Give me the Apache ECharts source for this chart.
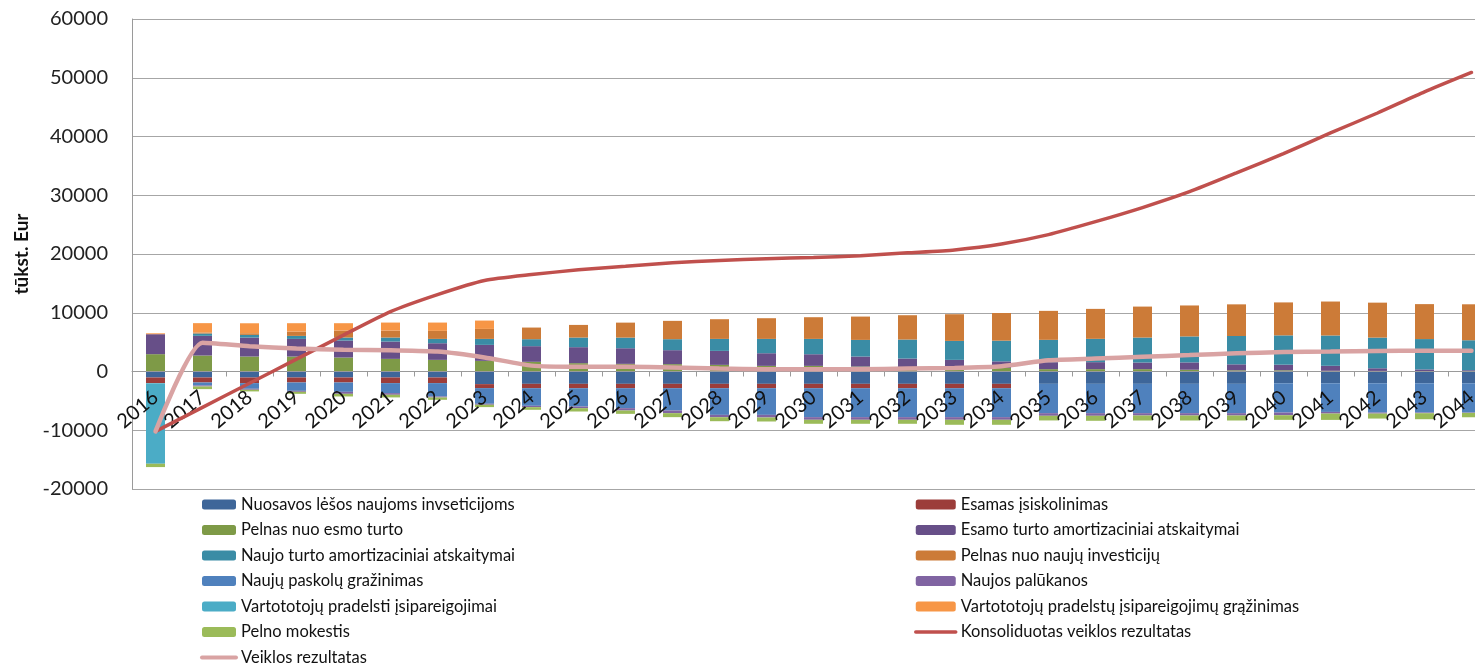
<!DOCTYPE html>
<html>
<head>
<meta charset="utf-8">
<script src="https://cdn.jsdelivr.net/npm/echarts@6/dist/echarts.min.js"></script>
<style>
  html, body { margin: 0; padding: 0; background: #fff; }
  #chart { width: 1475px; height: 668px; }
</style>
</head>
<body>
<div id="chart"></div>
<script>
var years = ['2016','2017','2018','2019','2020','2021','2022','2023','2024','2025',
  '2026','2027','2028','2029','2030','2031','2032','2033','2034','2035',
  '2036','2037','2038','2039','2040','2041','2042','2043','2044'];

var nuosavos = [-1020,-1020,-1020,-1020,-1020,-1020,-1020,-2150,-2100,-2100,
  -2100,-2100,-2100,-2100,-2100,-2100,-2100,-2100,-2100,-2100,
  -2100,-2100,-2100,-2100,-2000,-2000,-2000,-2000,-2000];
var esamasIsiskolinimas = [-960,-850,-960,-850,-850,-960,-960,-680,-740,-740,
  -740,-740,-740,-740,-740,-740,-740,-740,-740,0,
  0,0,0,0,0,0,0,0,0];
var pelnasEsamo = [2950,2720,2550,2550,2380,2150,1980,1810,1650,1420,
  1300,1250,1130,960,960,850,740,680,600,400,
  400,400,300,200,200,120,100,80,50];
var esamoAmort = [3400,3350,3230,3000,2890,2950,2830,2720,2660,2720,
  2660,2380,2380,2150,1980,1700,1470,1300,1130,1190,
  1190,1130,1250,1020,960,850,450,280,170];
var naujoAmort = [0,400,450,510,510,680,740,1020,1190,1640,
  1810,1870,2040,2440,2610,2830,3230,3230,3520,3800,
  3970,4250,4420,4820,4990,5160,5220,5160,5100];
var pelnasNauju = [0,170,280,740,1190,1190,1360,1700,1980,2150,
  2550,3120,3350,3520,3690,3970,4140,4540,4710,4930,
  5100,5270,5270,5390,5610,5780,5950,5950,6120];
var paskoluGrazinimas = [0,-510,-960,-1420,-1590,-1700,-2270,-2660,-3000,-3120,
  -3400,-3800,-4540,-4540,-4930,-4930,-4930,-4930,-4930,-4990,
  -4990,-4990,-4990,-4990,-4990,-4880,-4990,-4990,-4990];
var naujosPalukanos = [0,-170,-170,-170,-340,-280,-170,-170,-230,-280,
  -400,-450,-400,-450,-450,-450,-450,-450,-450,-450,
  -450,-400,-400,-400,-450,-280,-170,-110,-60];
var pradelsti = [-13720,0,0,0,0,0,0,0,0,0,
  0,0,0,0,0,0,0,0,0,0,
  0,0,0,0,0,0,0,0,0];
var pradelstuGrazinimas = [150,1590,1700,1420,1250,1360,1420,1420,0,0,
  0,0,0,0,0,0,0,0,0,0,
  0,0,0,0,0,0,0,0,0];
var pelnoMokestis = [-570,-450,-280,-340,-450,-450,-400,-400,-450,-570,
  -570,-680,-680,-680,-680,-680,-680,-850,-850,-790,
  -850,-850,-850,-850,-790,-1080,-850,-1020,-740];
var konsoliduotas = [-10200,-6100,-2000,2100,6200,10200,13100,15500,16500,17300,
  17900,18500,18900,19200,19400,19700,20200,20700,21700,23300,
  25500,27900,30600,33800,37100,40600,44000,47600,50900];
var veiklos = [-10200,4900,4300,3900,3700,3600,3400,2400,1000,800,
  800,700,500,400,400,400,500,600,900,1900,
  2200,2500,2800,3100,3300,3400,3500,3550,3550];

var font = 'Lato, "Open Sans", sans-serif';
var chart = echarts.init(document.getElementById('chart'));

function bar(name, data, color) {
  return {
    name: name, type: 'bar', stack: 'total', data: data,
    barWidth: 19, itemStyle: { color: color },
    emphasis: { disabled: true }
  };
}

var leftNames = ['Nuosavos lėšos naujoms invseticijoms', 'Pelnas nuo esmo turto',
  'Naujo turto amortizaciniai atskaitymai', 'Naujų paskolų gražinimas',
  'Vartototojų pradelsti įsipareigojimai', 'Pelno mokestis', 'Veiklos rezultatas'];
var rightNames = ['Esamas įsiskolinimas', 'Esamo turto amortizaciniai atskaitymai',
  'Pelnas nuo naujų investicijų', 'Naujos palūkanos',
  'Vartototojų pradelstų įsipareigojimų grąžinimas', 'Konsoliduotas veiklos rezultatas'];

var legendText = { fontSize: 16.5, lineHeight: 17, color: '#111', fontFamily: font };

chart.setOption({
  animation: false,
  textStyle: { fontFamily: font },
  grid: { left: 132, right: -20, top: 19, bottom: 179, outerBoundsMode: 'none' },
  legend: [{
    orient: 'vertical', left: 200, top: 496, padding: 0,
    itemWidth: 34, itemHeight: 10, itemGap: 8.5,
    selectedMode: false,
    lineStyle: { width: 4, cap: 'round' },
    data: leftNames,
    textStyle: legendText
  }, {
    orient: 'vertical', left: 914, top: 496, padding: 0,
    itemWidth: 40, itemHeight: 10, itemGap: 8.5,
    selectedMode: false,
    lineStyle: { width: 3.5, cap: 'round' },
    data: rightNames,
    textStyle: legendText
  }],
  xAxis: {
    type: 'category', data: years,
    offset: -117.5, z: 10,
    axisLine: { onZero: false, lineStyle: { color: '#9a9a9a', width: 1 } },
    axisTick: { show: true, length: 5, lineStyle: { color: '#9a9a9a' } },
    axisLabel: { rotate: 40, fontSize: 20, color: '#111', margin: 23, fontFamily: font },
    splitLine: { show: false }
  },
  yAxis: {
    type: 'value', min: -20000, max: 60000, interval: 10000,
    name: 'tūkst. Eur', nameLocation: 'middle', nameGap: 100,
    nameTextStyle: { fontSize: 19, fontWeight: 'bold', color: '#111', fontFamily: font },
    axisLine: { show: true, lineStyle: { color: '#9a9a9a' } },
    axisTick: { show: false },
    axisLabel: { fontSize: 20, color: '#222', margin: 24, fontFamily: font,
      formatter: function (v) { return String(v); } },
    splitLine: { lineStyle: { color: '#a6a6a6', width: 1 } }
  },
  series: [
    bar('Nuosavos lėšos naujoms invseticijoms', nuosavos, '#3E6699'),
    bar('Esamas įsiskolinimas', esamasIsiskolinimas, '#9C3D3A'),
    bar('Pelnas nuo esmo turto', pelnasEsamo, '#7E9A47'),
    bar('Esamo turto amortizaciniai atskaitymai', esamoAmort, '#674F88'),
    bar('Naujo turto amortizaciniai atskaitymai', naujoAmort, '#3A8CA5'),
    bar('Pelnas nuo naujų investicijų', pelnasNauju, '#CC7B38'),
    bar('Naujų paskolų gražinimas', paskoluGrazinimas, '#4F81BD'),
    bar('Naujos palūkanos', naujosPalukanos, '#8064A2'),
    bar('Vartototojų pradelsti įsipareigojimai', pradelsti, '#4BACC6'),
    bar('Vartototojų pradelstų įsipareigojimų grąžinimas', pradelstuGrazinimas, '#F79646'),
    bar('Pelno mokestis', pelnoMokestis, '#9BBB59'),
    {
      name: 'Konsoliduotas veiklos rezultatas', type: 'line', data: konsoliduotas,
      symbol: 'none', smooth: 0.2, z: 11,
      lineStyle: { color: '#C0504D', width: 3.5, cap: 'round' },
      itemStyle: { color: '#C0504D', opacity: 0 }
    },
    {
      name: 'Veiklos rezultatas', type: 'line', data: veiklos,
      symbol: 'none', smooth: 0.2, z: 12,
      lineStyle: { color: '#D9A3A3', width: 4.5, cap: 'round' },
      itemStyle: { color: '#D9A3A3', opacity: 0 }
    }
  ]
});
</script>
</body>
</html>
